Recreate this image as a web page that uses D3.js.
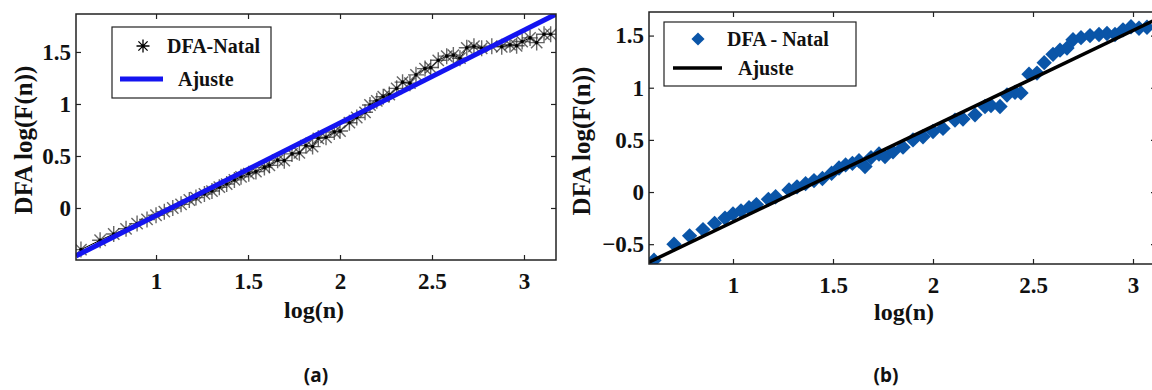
<!DOCTYPE html>
<html>
<head>
<meta charset="utf-8">
<script src="https://cdn.jsdelivr.net/npm/d3@7"></script>
<style>
  html, body { margin: 0; padding: 0; background: #fff; }
  svg text { font-family: "Liberation Serif", "DejaVu Serif", serif; font-weight: bold; fill: #111; }
  .caption { font-family: "Noto Sans", "Open Sans", sans-serif; }
</style>
</head>
<body>
<svg id="chart" width="1152" height="390"></svg>
<script>
// Panel (a): DFA-Natal, stars
const aLogN = [0.592, 0.696, 0.770, 0.837, 0.897, 0.951, 1.000, 1.045, 1.091, 1.136, 1.181, 1.217,
  1.263, 1.304, 1.344, 1.384, 1.426, 1.462, 1.504, 1.543, 1.589, 1.616, 1.661, 1.697, 1.739, 1.779,
  1.815, 1.851, 1.882, 1.924, 1.969, 2.000, 2.051, 2.091, 2.136, 2.163, 2.200, 2.235, 2.268, 2.308,
  2.340, 2.380, 2.413, 2.462, 2.493, 2.534, 2.580, 2.616, 2.652, 2.689, 2.728, 2.770, 2.825, 2.879,
  2.924, 2.960, 2.990, 3.033, 3.069, 3.109, 3.145];
const aLogF = [-0.40, -0.31, -0.25, -0.20, -0.15, -0.11, -0.07, -0.035, 0.00, 0.035, 0.077, 0.10,
  0.135, 0.163, 0.20, 0.23, 0.27, 0.30, 0.33, 0.35, 0.39, 0.41, 0.46, 0.455, 0.52, 0.53,
  0.60, 0.59, 0.67, 0.68, 0.73, 0.74, 0.82, 0.87, 0.92, 0.99, 1.03, 1.07, 1.09, 1.15,
  1.21, 1.20, 1.28, 1.34, 1.35, 1.42, 1.46, 1.47, 1.44, 1.54, 1.555, 1.535, 1.555, 1.55,
  1.57, 1.56, 1.60, 1.635, 1.59, 1.67, 1.67];
const aFit = { slope: 0.891, intercept: -0.964 };

// Panel (b): DFA - Natal, diamonds
const bLogN = [0.605, 0.705, 0.783, 0.850, 0.908, 0.960, 1.000, 1.040, 1.080, 1.117, 1.177, 1.213,
  1.280, 1.320, 1.363, 1.405, 1.447, 1.493, 1.530, 1.563, 1.597, 1.630, 1.660, 1.690, 1.730, 1.760,
  1.800, 1.850, 1.900, 1.950, 2.000, 2.050, 2.110, 2.150, 2.210, 2.260, 2.290, 2.335, 2.370, 2.410,
  2.440, 2.480, 2.520, 2.556, 2.600, 2.635, 2.670, 2.700, 2.740, 2.785, 2.830, 2.870, 2.910, 2.950,
  2.990, 3.030, 3.070];
const bLogF = [-0.654, -0.50, -0.42, -0.36, -0.30, -0.25, -0.21, -0.18, -0.15, -0.12, -0.07, -0.045,
  0.02, 0.05, 0.08, 0.11, 0.13, 0.18, 0.23, 0.26, 0.275, 0.30, 0.245, 0.33, 0.365, 0.34,
  0.385, 0.43, 0.50, 0.53, 0.58, 0.61, 0.69, 0.70, 0.74, 0.82, 0.83, 0.82, 0.93, 0.955,
  0.95, 1.13, 1.14, 1.24, 1.32, 1.36, 1.38, 1.46, 1.48, 1.50, 1.51, 1.52, 1.51, 1.555,
  1.585, 1.57, 1.58];
const bFit = { slope: 0.918, intercept: -1.205 };

const xTicks = [1, 1.5, 2, 2.5, 3];
const aYTicks = [0, 0.5, 1, 1.5];
const bYTicks = [-0.5, 0, 0.5, 1, 1.5];

const svg = d3.select('#chart');
const defs = svg.append('defs');

function starPath(r) {
  const d = r * 0.707;
  return `M${-r},0L${r},0M0,${-r}L0,${r}M${-d},${-d}L${d},${d}M${-d},${d}L${d},${-d}`;
}

function drawPanel(cfg) {
  const x = d3.scaleLinear().domain(cfg.xDomain).range([cfg.left, cfg.right]);
  const y = d3.scaleLinear().domain(cfg.yDomain).range([cfg.bottom, cfg.top]);

  defs.append('clipPath').attr('id', cfg.id + '-clip')
    .append('rect')
    .attr('x', cfg.left).attr('y', cfg.top)
    .attr('width', cfg.right - cfg.left).attr('height', cfg.bottom - cfg.top);

  const g = svg.append('g');
  const plot = g.append('g').attr('clip-path', `url(#${cfg.id}-clip)`);

  // inward ticks on every side
  const tickLen = 5;
  g.append('g').attr('transform', `translate(0,${cfg.bottom})`)
    .call(d3.axisBottom(x).tickValues(xTicks).tickSizeInner(-tickLen).tickSizeOuter(0).tickPadding(13).tickFormat(d3.format('')))
    .call(a => a.select('.domain').remove())
    .call(a => a.selectAll('text').attr('font-size', 23).attr('fill', '#111').attr('font-family', null));
  g.append('g').attr('transform', `translate(0,${cfg.top})`)
    .call(d3.axisTop(x).tickValues(xTicks).tickSizeInner(-tickLen).tickSizeOuter(0).tickFormat(''))
    .call(a => a.select('.domain').remove());
  g.append('g').attr('transform', `translate(${cfg.left},0)`)
    .call(d3.axisLeft(y).tickValues(cfg.yTicks).tickSizeInner(-tickLen).tickSizeOuter(0).tickPadding(5).tickFormat(d3.format('')))
    .call(a => a.select('.domain').remove())
    .call(a => a.selectAll('text').attr('font-size', 23).attr('fill', '#111').attr('font-family', null));
  g.append('g').attr('transform', `translate(${cfg.right},0)`)
    .call(d3.axisRight(y).tickValues(cfg.yTicks).tickSizeInner(-tickLen).tickSizeOuter(0).tickFormat(''))
    .call(a => a.select('.domain').remove());
  g.selectAll('.tick line').attr('stroke', '#222').attr('stroke-width', 1.2);

  g.append('rect')
    .attr('x', cfg.left).attr('y', cfg.top)
    .attr('width', cfg.right - cfg.left).attr('height', cfg.bottom - cfg.top)
    .attr('fill', 'none').attr('stroke', '#222').attr('stroke-width', 1.5);

  const pts = cfg.xs.map((v, i) => [v, cfg.ys[i]]);

  if (cfg.marker === 'star') {
    plot.append('path')
      .datum(pts)
      .attr('d', d3.line().x(d => x(d[0])).y(d => y(d[1])))
      .attr('fill', 'none').attr('stroke', '#000').attr('stroke-width', 1);
    plot.append('g').selectAll('path')
      .data(pts)
      .join('path')
      .attr('transform', d => `translate(${x(d[0])},${y(d[1])})`)
      .attr('d', starPath(8))
      .attr('stroke', '#333').attr('stroke-opacity', 0.75).attr('stroke-width', 1.4);
    plot.append('g').selectAll('circle')
      .data(pts)
      .join('circle')
      .attr('cx', d => x(d[0])).attr('cy', d => y(d[1]))
      .attr('r', 1.8).attr('fill', '#000');
  } else {
    plot.append('g').selectAll('path')
      .data(pts)
      .join('path')
      .attr('transform', d => `translate(${x(d[0])},${y(d[1])})`)
      .attr('d', d3.symbol(d3.symbolDiamond2, 150)())
      .attr('fill', '#0a55a8');
  }

  // fitted line across the whole x range
  const fitPts = cfg.xDomain.map(v => [v, cfg.fit.slope * v + cfg.fit.intercept]);
  plot.append('path')
    .datum(fitPts)
    .attr('d', d3.line().x(d => x(d[0])).y(d => y(d[1])))
    .attr('stroke', cfg.fitColor).attr('stroke-width', cfg.fitWidth).attr('fill', 'none');

  // legend
  const L = cfg.legend;
  g.append('rect')
    .attr('x', L.x).attr('y', L.y).attr('width', L.w).attr('height', L.h)
    .attr('fill', '#fff').attr('stroke', '#222').attr('stroke-width', 1.2);
  if (cfg.marker === 'star') {
    g.append('path')
      .attr('transform', `translate(${L.markX},${L.row1})`)
      .attr('d', starPath(6.5))
      .attr('stroke', '#000').attr('stroke-width', 1.3);
  } else {
    g.append('path')
      .attr('transform', `translate(${L.markX},${L.row1})`)
      .attr('d', d3.symbol(d3.symbolDiamond2, 110)())
      .attr('fill', '#0a55a8');
  }
  g.append('text').attr('x', L.text1X).attr('y', L.row1 + 7)
    .attr('font-size', 20).text(cfg.seriesName);
  g.append('line')
    .attr('x1', L.lineX1).attr('x2', L.lineX2).attr('y1', L.row2).attr('y2', L.row2)
    .attr('stroke', cfg.fitColor).attr('stroke-width', cfg.fitWidth);
  g.append('text').attr('x', L.text2X).attr('y', L.row2 + 7)
    .attr('font-size', 20).text('Ajuste');

  // axis titles
  g.append('text')
    .attr('x', cfg.xLabel[0]).attr('y', cfg.xLabel[1])
    .attr('text-anchor', 'middle').attr('font-size', 24).text('log(n)');
  g.append('text')
    .attr('transform', `translate(${cfg.yLabel[0]},${cfg.yLabel[1]}) rotate(-90)`)
    .attr('text-anchor', 'middle').attr('font-size', 25).text('DFA log(F(n))');

  svg.append('text').attr('class', 'caption')
    .attr('x', cfg.caption[0]).attr('y', cfg.caption[1])
    .attr('text-anchor', 'middle').attr('font-size', 19).text(cfg.captionText);
}

drawPanel({
  id: 'a', left: 76, right: 556, top: 14, bottom: 260,
  xDomain: [0.565, 3.174], yDomain: [-0.5, 1.865], yTicks: aYTicks,
  xs: aLogN, ys: aLogF, fit: aFit, marker: 'star', seriesName: 'DFA-Natal',
  fitColor: '#1414f0', fitWidth: 5,
  legend: { x: 112, y: 27, w: 159, h: 71, markX: 143, row1: 46, text1X: 167, row2: 79, lineX1: 120, lineX2: 163, text2X: 178 },
  xLabel: [314, 318], yLabel: [32, 140], caption: [316, 382], captionText: '(a)'
});

drawPanel({
  id: 'b', left: 649, right: 1156, top: 12, bottom: 264,
  xDomain: [0.58, 3.115], yDomain: [-0.69, 1.726], yTicks: bYTicks,
  xs: bLogN, ys: bLogF, fit: bFit, marker: 'diamond', seriesName: 'DFA - Natal',
  fitColor: '#000', fitWidth: 3.5,
  legend: { x: 664, y: 22, w: 192, h: 64, markX: 698, row1: 39, text1X: 727, row2: 68, lineX1: 673, lineX2: 722, text2X: 738 },
  xLabel: [904, 320], yLabel: [590, 141], caption: [886, 382], captionText: '(b)'
});
</script>
</body>
</html>
